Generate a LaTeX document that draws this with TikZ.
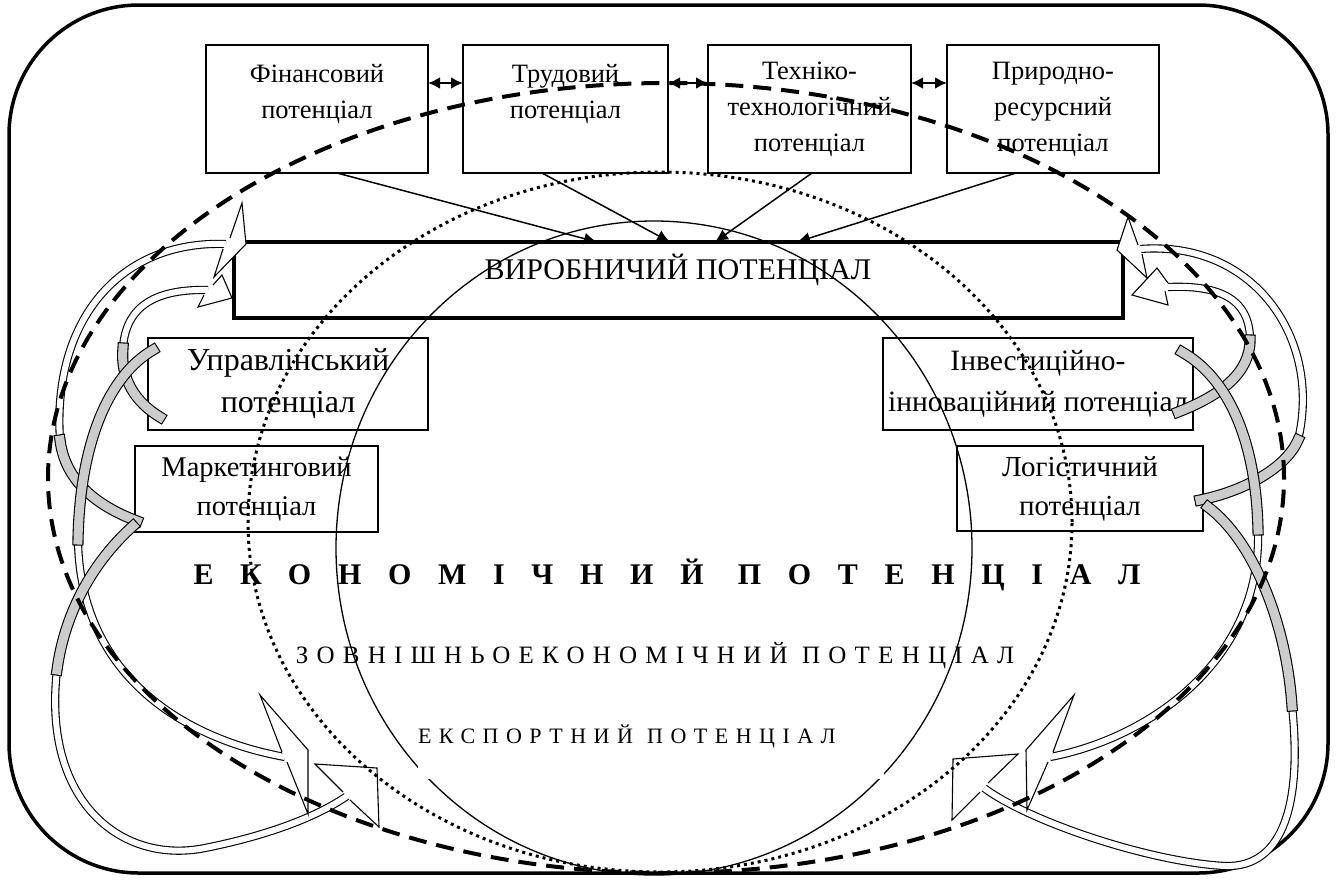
\documentclass[tikz,border=0pt]{standalone}
\usepackage{fontspec}
\setmainfont{Liberation Serif}
\usetikzlibrary{arrows.meta}
\usetikzlibrary{positioning}
\colorlet{penColor}{black}
\colorlet{ribbonBack}{black!20}
\tikzset{
  potbox/.style={draw=penColor, line width=1.4pt, inner sep=0pt, outer sep=0pt, align=center},
  feed/.style={-{Latex[length=13pt,width=12pt]}, line width=1.5pt},
  link/.style={{Latex[length=12pt,width=12pt]}-{Latex[length=12pt,width=12pt]}, line width=2.5pt},
  ribbon/.style={line width=1.1pt, double=white, double distance=6pt},
  ribbonback/.style={line width=1.1pt, double=ribbonBack, double distance=9pt, line cap=rect},
  ribbonhead/.style={draw=penColor, fill=white, line width=1.1pt, line join=miter},
}

\begin{document}
\begin{tikzpicture}[x=1pt,y=-1pt]
		\useasboundingbox (0,0) rectangle (1337,879);
		\draw[penColor, line width=3.5pt, rounded corners=130pt] (9,5) rectangle (1328,873);% frame
		
		% top row
		\node[potbox, minimum width=222pt, minimum height=128pt, font=\fontsize{26.5pt}{36pt}\selectfont] (fin) at (317,109) {Фінансовий\\потенціал\\~};
		\node[potbox, minimum width=205pt, minimum height=128pt, font=\fontsize{26.5pt}{36pt}\selectfont] (lab) at (565.5,109) {Трудовий\\потенціал\\~};
		\node[potbox, minimum width=203pt, minimum height=128pt, font=\fontsize{26.5pt}{36pt}\selectfont] (tech) at (809.5,109) {Техніко-\\технологічний\\потенціал};
		\node[potbox, minimum width=212pt, minimum height=128pt, font=\fontsize{26.5pt}{36pt}\selectfont] (nat) at (1053,109) {Природно-\\ресурсний\\потенціал};
		\draw[link] ([yshift=26pt]fin.east) -- ([yshift=26pt]lab.west);
		\draw[link] ([yshift=26pt]lab.east) -- ([yshift=26pt]tech.west);
		\draw[link] ([yshift=26pt]tech.east) -- ([yshift=26pt]nat.west);
		
		\node[potbox, line width=3.5pt, minimum width=889pt, minimum height=76pt] (prod) at (678.5,280) {};
		\node[font=\fontsize{30pt}{36pt}\selectfont] (prodlabel) at (678,270) {ВИРОБНИЧИЙ ПОТЕНЦІАЛ};
		\draw[feed] ([xshift=20pt]fin.south) -- ([xshift=363pt]prod.north west);
		\draw[feed] ([xshift=-23.5pt]lab.south) -- ([xshift=436pt]prod.north west);
		\draw[feed] ([xshift=2.5pt]tech.south) -- ([xshift=481pt]prod.north west);
		\draw[feed] ([xshift=-37pt]nat.south) -- ([xshift=563pt]prod.north west);
		
		% side boxes
		\node[potbox, minimum width=280pt, minimum height=92pt, font=\fontsize{32pt}{42pt}\selectfont] (upr) at (288,384) {Управлінський\\потенціал};
		\node[potbox, minimum width=243pt, minimum height=86pt, font=\fontsize{28.5pt}{39pt}\selectfont] (mkt) at (256.5,489) {Маркетинговий\\потенціал};
		\node[potbox, minimum width=310pt, minimum height=92pt, font=\fontsize{29.5pt}{41pt}\selectfont] (inv) at (1038,384) {Інвестиційно-\\інноваційний потенціал};
		\node[potbox, minimum width=246pt, minimum height=85pt, font=\fontsize{29pt}{39pt}\selectfont] (log) at (1080,488.5) {Логістичний\\потенціал};
		
		% ribbons, left
		\draw[ribbon] (60,440) .. controls (52,320) and (120,240) .. (226,244);
		\draw[ribbon] (123,348) .. controls (126,300) and (165,289) .. (208,290);
		\draw[ribbon] (78,540) .. controls (80,680) and (190,740) .. (285,757);
		\draw[ribbon] (57,670) .. controls (42,800) and (120,865) .. (205,848) .. controls (265,836) and (315,818) .. (347,796);
		\draw[ribbonback] (137,521) .. controls (95,505) and (65,480) .. (60,440);
		\draw[ribbonback] (160,417) .. controls (135,402) and (120,378) .. (123,348);
		\draw[ribbonback] (153,350) .. controls (110,375) and (80,440) .. (78,540);
		\draw[ribbonback] (133,526) .. controls (95,560) and (65,610) .. (57,670);
		\filldraw[ribbonhead] (230,238) -- (242,203) -- (246,244) -- (214,277) -- (223,249);
		\filldraw[ribbonhead] (213,285) -- (222,275) -- (232,298) -- (198,307) -- (204,295);
		\filldraw[ribbonhead] (282,752) -- (260,695) -- (308,750) -- (308,814) -- (287,762);
		\filldraw[ribbonhead] (343,792) -- (315,764) -- (377,768) -- (379,827) -- (350,800);
		
		% ribbons, right
		\draw[ribbon] (1298,440) .. controls (1322,340) and (1255,240) .. (1140,249);
		\draw[ribbon] (1250,340) .. controls (1250,296) and (1215,285) .. (1168,287);
		\draw[ribbon] (1258,530) .. controls (1262,660) and (1150,738) .. (1050,757);
		\draw[ribbon] (1292,706) .. controls (1302,800) and (1285,868) .. (1225,866) .. controls (1150,862) and (1030,822) .. (984,788);
		\draw[ribbonback] (1200,500) .. controls (1240,492) and (1285,470) .. (1298,440);
		\draw[ribbonback] (1178,412) .. controls (1222,395) and (1250,372) .. (1250,340);
		\draw[ribbonback] (1182,352) .. controls (1228,378) and (1256,440) .. (1258,530);
		\draw[ribbonback] (1208,507) .. controls (1252,540) and (1286,620) .. (1292,706);
		\filldraw[ribbonhead] (1138,245) -- (1128,217) -- (1117,250) -- (1147,278) -- (1142,254);
		\filldraw[ribbonhead] (1168,283) -- (1157,268) -- (1132,295) -- (1168,305) -- (1165,291);
		\filldraw[ribbonhead] (1053,752) -- (1074,695) -- (1026,750) -- (1027,810) -- (1048,762);
		\filldraw[ribbonhead] (988,783) -- (1018,754) -- (953,759) -- (952,820) -- (980,792);
		
		% rings
		\draw[penColor, line width=1.3pt] (654,548) ellipse (318pt and 327pt);
		\draw[penColor, line width=3pt, dash pattern=on 3pt off 4pt] (660,522) ellipse (412pt and 350pt);
		\draw[penColor, line width=4pt, dash pattern=on 18pt off 10pt] (666,478) ellipse (618pt and 395pt);
		
		\node[font={\fontsize{30pt}{36pt}\selectfont\bfseries\addfontfeature{LetterSpace=89}}] (econ) at (667,575) {ЕКОНОМІЧНИЙ ПОТЕНЦІАЛ};
		\node[font={\fontsize{25pt}{30pt}\selectfont\addfontfeature{LetterSpace=33}}] (foreign) at (655,656) {ЗОВНІШНЬОЕКОНОМІЧНИЙ ПОТЕНЦІАЛ};
		\node[fill=white, inner sep=0pt, text width=466pt, align=left, minimum height=84pt, font={\fontsize{22pt}{26pt}\selectfont\addfontfeature{LetterSpace=34}}] (export) at (651,737) {ЕКСПОРТНИЙ\hspace{7pt} ПОТЕНЦІАЛ};
\end{tikzpicture}
\end{document}
